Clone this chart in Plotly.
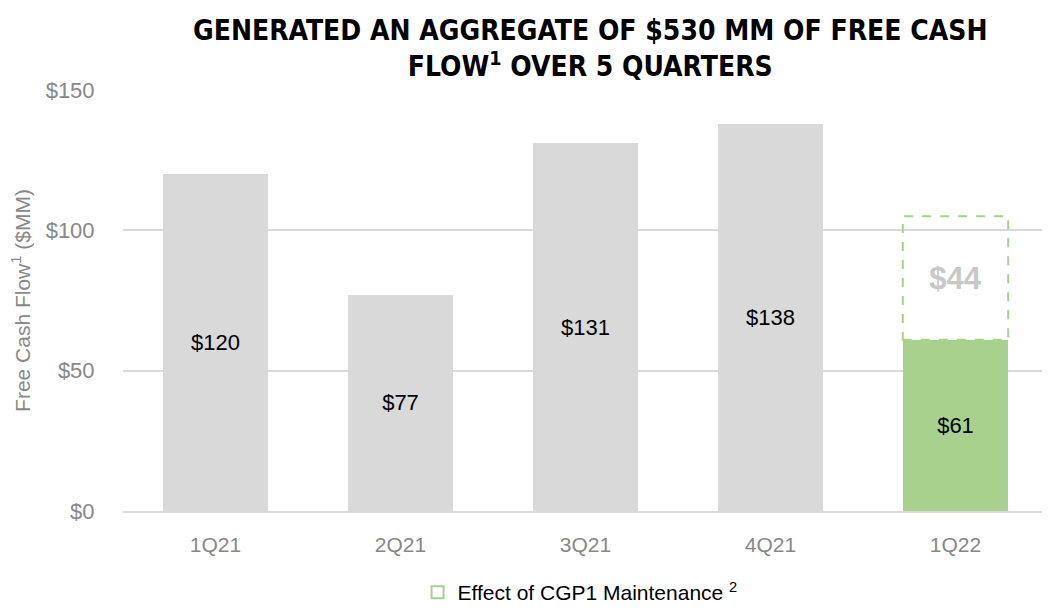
import plotly.graph_objects as go

quarters = ["1Q21", "2Q21", "3Q21", "4Q21", "1Q22"]
fcf = [120, 77, 131, 138, 61]
maintenance_effect = [None, None, None, None, 44]
bar_colors = ["#d9d9d9", "#d9d9d9", "#d9d9d9", "#d9d9d9", "#a9d18e"]
y_ticks = [0, 50, 100, 150]
y_tick_labels = ["$0", "$50", "$100", "$150"]

BAR_W = 0.57
FONT = "Liberation Sans, Arial, sans-serif"
TITLE_FONT = "DejaVu Sans Condensed, Liberation Sans Narrow, Arial Narrow, sans-serif"

fig = go.Figure()
fig.add_trace(go.Bar(
    x=quarters, y=fcf, width=BAR_W,
    marker=dict(color=bar_colors, line=dict(width=0)),
    text=[f"${v}" for v in fcf], textposition="inside",
    insidetextanchor="middle",
    textfont=dict(size=22, color="#000000", family=FONT),
    showlegend=False, hoverinfo="skip",
))
fig.add_trace(go.Bar(
    x=quarters, y=maintenance_effect, width=BAR_W,
    marker=dict(color="rgba(0,0,0,0)", line=dict(width=0)),
    text=[("$%d" % v) if v is not None else "" for v in maintenance_effect],
    textposition="inside", insidetextanchor="middle",
    textfont=dict(size=31, color="#c8c8c8", family=FONT, weight="bold"),
    showlegend=False, hoverinfo="skip",
))

# dashed outline for the maintenance effect, built from the data
for i, v in enumerate(maintenance_effect):
    if v is None:
        continue
    fig.add_shape(
        type="rect", xref="x", yref="y",
        x0=i - BAR_W / 2, x1=i + BAR_W / 2,
        y0=fcf[i], y1=fcf[i] + v,
        line=dict(color="#a9d18e", width=2, dash="dash"),
        fillcolor="rgba(0,0,0,0)",
        showlegend=True, name="Effect of CGP1 Maintenance <sup>2</sup>",
    )

fig.add_annotation(
    text="GENERATED AN AGGREGATE OF $530 MM OF FREE CASH<br>FLOW<sup>1</sup> OVER 5 QUARTERS",
    xref="paper", yref="paper", x=(590 - 123) / 925, y=1 + (90 - 12) / 421,
    xanchor="center", yanchor="top", showarrow=False, align="center",
    font=dict(family=TITLE_FONT, size=28, color="#000000", weight="bold"),
)

fig.update_layout(
    width=1042, height=605,
    barmode="stack",
    plot_bgcolor="white", paper_bgcolor="white",
    margin=dict(l=115, r=2, t=82, b=102, autoexpand=False),
    font=dict(family=FONT, color="#888888"),
    xaxis=dict(
        showgrid=False, showline=True, linecolor="#d9d9d9", linewidth=2,
        tickfont=dict(size=21, color="#888888"),
        ticks="outside", ticklen=14, tickcolor="rgba(0,0,0,0)",
    ),
    yaxis=dict(
        range=[0, 150], tickvals=y_ticks, ticktext=y_tick_labels,
        showgrid=True, gridcolor="#d9d9d9", gridwidth=2,
        zeroline=False,
        tickfont=dict(size=22, color="#888888"),
        ticks="outside", ticklen=23, tickcolor="rgba(0,0,0,0)",
        title=dict(text="Free Cash Flow<sup>1</sup> ($MM)", font=dict(size=21, color="#888888"), standoff=11),
    ),
    legend=dict(
        orientation="h", x=(580 - 123) / 925, xanchor="center",
        y=-(572 - 511) / 421, yanchor="top",
        font=dict(size=21, color="#000000"),
        itemwidth=30,
    ),
)

fig.write_html("out.html")
